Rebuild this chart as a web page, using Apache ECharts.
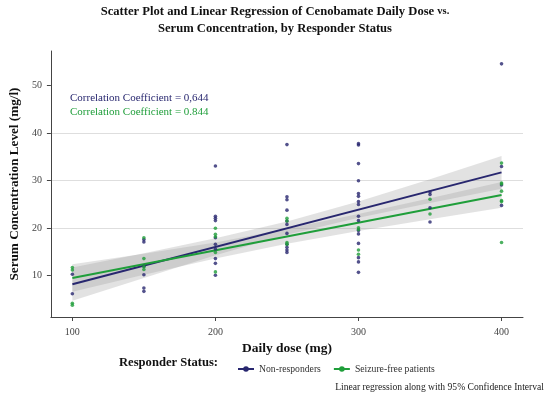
<!DOCTYPE html>
<html>
<head>
<meta charset="utf-8">
<script src="https://cdn.jsdelivr.net/npm/echarts@6/dist/echarts.min.js"></script>
<style>html,body{margin:0;padding:0;background:#fff}#c{width:550px;height:399px}</style>
</head>
<body>
<div id="c"></div>
<script>
// ---- data ----
const xTicks = [100, 200, 300, 400];
const yTicks = [10, 20, 30, 40, 50];
const seriesNames = ['Non-responders', 'Seizure-free patients'];

// Non-responders: [dose, concentration]
const nonResponders = [
  [100, 10.3], [100, 6.2],
  [150, 17.6], [150, 17.1], [150, 12.0], [150, 10.2], [150, 7.4], [150, 6.7],
  [200, 33.1], [200, 22.5], [200, 22.1], [200, 21.6], [200, 18.0], [200, 16.6], [200, 15.6], [200, 13.6], [200, 12.6], [200, 10.1],
  [250, 37.6], [250, 26.6], [250, 26.0], [250, 23.8], [250, 21.5], [250, 20.8], [250, 18.9], [250, 16.6], [250, 16.0], [250, 15.4], [250, 14.9],
  [300, 37.8], [300, 37.5], [300, 33.6], [300, 30.0], [300, 27.3], [300, 26.7], [300, 25.6], [300, 25.0], [300, 22.5], [300, 21.6], [300, 19.5], [300, 18.8], [300, 16.8], [300, 13.8], [300, 12.9], [300, 10.7],
  [350, 27.6], [350, 27.1], [350, 24.3], [350, 21.3],
  [400, 54.6], [400, 33.0], [400, 29.1], [400, 24.8]
];
// Seizure-free patients
const seizureFree = [
  [100, 11.7], [100, 11.2], [100, 4.2], [100, 3.8],
  [150, 18.0], [150, 13.6], [150, 11.9], [150, 11.3],
  [200, 20.0], [200, 18.7], [200, 18.2], [200, 14.9], [200, 10.8],
  [250, 22.1], [250, 21.5], [250, 17.0], [250, 16.6],
  [300, 20.1], [300, 19.7], [300, 15.4], [300, 14.5],
  [350, 26.1], [350, 23.0],
  [400, 33.7], [400, 29.5], [400, 29.3], [400, 27.8], [400, 25.8], [400, 25.6], [400, 17.0]
];

// regression lines (end points)
const nonRespFit = [[100, 8.2], [400, 31.75]];
const seizureFit = [[100, 9.5], [400, 27.0]];

// 95% confidence bands
const bandDoses   = [100, 150, 200, 250, 300, 350, 400];
const nonRespLow  = [4.7, 9.5, 14.3, 18.6, 22.2, 25.3, 28.3];
const nonRespHigh = [11.7, 14.7, 17.9, 21.4, 25.6, 30.3, 35.2];
const seizureLow  = [6.6, 10.2, 13.6, 16.7, 19.4, 21.9, 24.3];
const seizureHigh = [12.4, 14.6, 17.0, 19.9, 23.0, 26.3, 29.7];

// ---- chart ----
const NAVY = '#28276f';
const GREEN = '#1f9e3a';
const SERIF = '"Liberation Serif", "Times New Roman", serif';

function bandSeries(low, high) {
  return {
    type: 'custom', silent: true, z: 1,
    data: [[bandDoses[0], low[0]]],
    renderItem: function (params, api) {
      const pts = [];
      for (let i = 0; i < bandDoses.length; i++) pts.push(api.coord([bandDoses[i], high[i]]));
      for (let i = bandDoses.length - 1; i >= 0; i--) pts.push(api.coord([bandDoses[i], low[i]]));
      return {
        type: 'polygon',
        shape: { points: pts },
        style: { fill: 'rgba(150,150,150,0.28)', stroke: null }
      };
    }
  };
}

const chart = echarts.init(document.getElementById('c'), null, { renderer: 'canvas' });
chart.setOption({
  animation: false,
  backgroundColor: '#ffffff',
  textStyle: { fontFamily: SERIF },
  title: {
    left: 'center', top: -2,
    text: '{a|Scatter Plot and Linear Regression of Cenobamate Daily Dose }{b|vs.}\n{a|Serum Concentration, by Responder Status}',
    textStyle: {
      rich: {
        a: { fontFamily: SERIF, fontWeight: 'bold', fontSize: 12.6, color: '#111', lineHeight: 17 },
        b: { fontFamily: SERIF, fontWeight: 'bold', fontSize: 10.5, color: '#111', lineHeight: 17 }
      }
    }
  },
  grid: { left: 47, right: 27, top: 51, bottom: 82, containLabel: false },
  xAxis: {
    type: 'value', min: 85, max: 415,
    name: 'Daily dose (mg)', nameLocation: 'middle', nameGap: 17,
    nameTextStyle: { fontFamily: SERIF, fontWeight: 'bold', fontSize: 13.5, color: '#111' },
    axisLine: { show: true, lineStyle: { color: '#444', width: 1 } },
    axisTick: { show: true, length: 4, customValues: xTicks, lineStyle: { color: '#444' } },
    axisLabel: { customValues: xTicks, fontFamily: SERIF, fontSize: 10, color: '#444', margin: 10 },
    splitLine: { show: false }
  },
  yAxis: {
    type: 'value', min: 1.3, max: 57.3,
    name: 'Serum Concentration Level (mg/l)', nameLocation: 'middle', nameGap: 28,
    nameTextStyle: { fontFamily: SERIF, fontWeight: 'bold', fontSize: 13.2, color: '#111' },
    axisLine: { show: true, lineStyle: { color: '#444', width: 1 } },
    axisTick: { show: true, length: 4, customValues: yTicks, lineStyle: { color: '#444' } },
    axisLabel: { customValues: yTicks, fontFamily: SERIF, fontSize: 10, color: '#444', margin: 9 },
    splitLine: { show: true, showMinLine: false, showMaxLine: false, lineStyle: { color: '#dedede', width: 1 } }
  },
  legend: {
    left: 232, top: 359,
    itemWidth: 16, itemHeight: 7, itemGap: 12,
    textStyle: { fontFamily: SERIF, fontSize: 9.7, color: '#333' },
    data: seriesNames
  },
  graphic: [
    { type: 'text', left: 119, top: 356, style: { text: 'Responder Status:', font: 'bold 12.6px ' + SERIF, fill: '#111' } },
    { type: 'text', right: 6, top: 382, style: { text: 'Linear regression along with 95% Confidence Interval', font: '9.6px ' + SERIF, fill: '#222' } },
    { type: 'text', left: 70, top: 93, style: { text: 'Correlation Coefficient = 0,644', font: '11px ' + SERIF, fill: NAVY } },
    { type: 'text', left: 70, top: 107, style: { text: 'Correlation Coefficient = 0.844', font: '11px ' + SERIF, fill: GREEN } }
  ],
  series: [
    bandSeries(nonRespLow, nonRespHigh),
    bandSeries(seizureLow, seizureHigh),
    {
      name: seriesNames[0], type: 'line', data: nonRespFit,
      symbol: 'circle', symbolSize: 5, showSymbol: false,
      itemStyle: { color: NAVY }, lineStyle: { color: NAVY, width: 2 }, z: 3
    },
    {
      name: seriesNames[1], type: 'line', data: seizureFit,
      symbol: 'circle', symbolSize: 5, showSymbol: false,
      itemStyle: { color: GREEN }, lineStyle: { color: GREEN, width: 2 }, z: 3
    },
    {
      name: seriesNames[0], type: 'scatter', data: nonResponders,
      symbolSize: 3.6, itemStyle: { color: NAVY }, z: 4
    },
    {
      name: seriesNames[1], type: 'scatter', data: seizureFree,
      symbolSize: 3.6, itemStyle: { color: GREEN }, z: 4
    }
  ]
});
</script>
</body>
</html>
